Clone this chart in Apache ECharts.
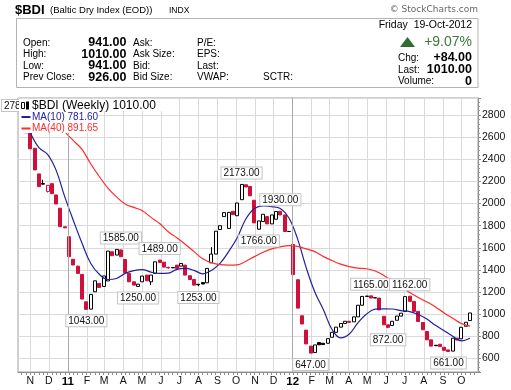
<!DOCTYPE html>
<html>
<head>
<meta charset="utf-8">
<script src="https://cdn.jsdelivr.net/npm/echarts@6/dist/echarts.min.js"></script>
<style>
html,body{margin:0;padding:0;background:#fff;}
#chart{width:511px;height:390px;}
</style>
</head>
<body>
<div id="chart"></div>
<script>
// ---------- DATA ----------
const firstWeek = '2010-10-25';           // Monday of first weekly bar
const axisStartDay = '2010-10-12';
const axisEndDay = '2012-10-28';
const opens = [2740, 2640, 2500, 2268, 2175, 2110, 2180, 2078, 1958, 1790,
 1700, 1496, 1434, 1359, 1111, 1045, 1202, 1277, 1250, 1300,
 1564, 1534, 1580, 1494, 1368, 1292, 1250, 1292, 1353, 1292,
 1368, 1489, 1470, 1422, 1418, 1443, 1434, 1443, 1347, 1313,
 1270, 1285, 1283, 1464, 1543, 1765, 1882, 1775, 1930, 1890,
 2035, 2170, 2155, 2030, 1768, 1837, 1882, 1816, 1858, 1930,
 1897, 1747, 1630, 1311, 985, 855, 710, 652, 742, 736,
 736, 790, 835, 882, 915, 935, 930, 975, 1080, 1163,
 1165, 1148, 1145, 980, 903, 897, 944, 982, 1024, 1162,
 1115, 1024, 924, 842, 767, 718, 727, 700, 676, 665,
 782, 776, 890, 941];
const closes = [2640, 2495, 2304, 2153, 2182, 2165, 2090, 1996, 1791, 1780,
 1519, 1444, 1368, 1136, 1043, 1178, 1301, 1241, 1345, 1570,
 1528, 1585, 1519, 1374, 1292, 1262, 1271, 1344, 1301, 1353,
 1473, 1467, 1425, 1418, 1422, 1413, 1458, 1353, 1313, 1262,
 1265, 1272, 1413, 1543, 1750, 1800, 1918, 1920, 1900, 2005,
 2173, 2150, 2070, 1825, 1843, 1903, 1816, 1897, 1928, 1897,
 1747, 1748, 1357, 1054, 910, 730, 647, 721, 722, 724,
 778, 835, 882, 915, 935, 925, 975, 1080, 1160, 1160,
 1145, 1146, 1038, 903, 880, 935, 982, 1008, 1158, 1115,
 1024, 933, 858, 767, 710, 714, 706, 672, 661, 782,
 765, 880, 926, 1010];
// wick extremes that go beyond the body: [week index, value]
const wickLows = [[4,2170],[5,2100],[15,1043],[26,1250],[29,1262],[33,1410],[40,1253],[54,1766],[66,647],[84,872],[98,661]];
const wickHighs = [[0,2783],[4,2215],[5,2168],[22,1585],[31,1489],[33,1428],[43,1605],[59,1930],[80,1165],[89,1162]];
// labelled highs / lows: [week index, 'high'|'low', text]
const peakLabels = [[0,'high','2783.00'],[14,'low','1043.00'],[22,'high','1585.00'],[26,'low','1250.00'],
 [31,'high','1489.00'],[40,'low','1253.00'],[50,'high','2173.00'],[54,'low','1766.00'],[59,'high','1930.00'],
 [66,'low','647.00'],[80,'high','1165.00'],[84,'low','872.00'],[89,'high','1162.00'],[98,'low','661.00']];
// moving averages read every second week (week index = 1 + 2k)
const ma10 = [2640, 2505, 2445, 2300, 2060, 1845, 1640, 1460, 1360, 1313, 1322, 1368, 1393, 1402, 1380, 1368,
 1370, 1405, 1413, 1395, 1364, 1395, 1458, 1565, 1690, 1860, 1955, 1979, 1973, 1955, 1870, 1680, 1420, 1200,
 1040, 860, 785, 820, 920, 1000, 1045, 1048, 1046, 1032, 1022, 996, 955, 898, 850, 800, 758, 781.6];
const ma40 = [null, null, null, 2760, 2650, 2570, 2490, 2360, 2245, 2140, 2060, 1995, 1965, 1935, 1875, 1820,
 1745, 1690, 1630, 1565, 1500, 1465, 1447, 1443, 1445, 1478, 1520, 1560, 1590, 1608, 1620, 1612, 1590, 1565,
 1520, 1485, 1452, 1430, 1415, 1410, 1390, 1350, 1300, 1245, 1195, 1150, 1110, 1065, 1010, 962, 915, 891.65];
const monthLetters = ['J','F','M','A','M','J','J','A','S','O','N','D'];
const yearLines = ['2011-01-01','2012-01-01'];

// ---------- BUILD ----------
const DAY = 86400000;
const iso = t => new Date(t).toISOString().slice(0,10);
const toT = s => Date.parse(s + 'T00:00:00Z');
const days = [];
for (let t = toT(axisStartDay); t <= toT(axisEndDay); t += DAY) days.push(iso(t));
const mondays = new Set(days.filter(d => new Date(toT(d)).getUTCDay() === 1));
const weeks = opens.map((_, j) => iso(toT(firstWeek) + 7 * j * DAY));
const lows = opens.map((o, j) => Math.min(o, closes[j]));
const highs = opens.map((o, j) => Math.max(o, closes[j]));
wickLows.forEach(([j, v]) => lows[j] = Math.min(lows[j], v));
wickHighs.forEach(([j, v]) => highs[j] = Math.max(highs[j], v));

const RED = '#d0103a', BLACK = '#000000', BLUE = '#22229a', MARED = '#ff2a2a';
const candleData = weeks.map((d, j) => {
  const o = opens[j], c = closes[j], prev = j ? closes[j - 1] : o;
  const col = c < prev ? RED : BLACK;
  const fill = c >= o ? '#ffffff' : col;
  return { value: [d, o, c, lows[j], highs[j]],
    itemStyle: { color: fill, color0: fill, borderColor: col, borderColor0: col } };
});
const maLine = arr => arr.map((v, k) => v == null ? null : [weeks[1 + 2 * k], v]).filter(Boolean);

const FONT = '"Liberation Sans", Arial, sans-serif';
const markData = peakLabels.map(([j, kind, text]) => ({
  coord: [weeks[j], kind === 'high' ? highs[j] : lows[j]],
  value: text,
  label: { position: kind === 'high' ? 'top' : 'bottom', offset: j === 0 ? [-4, 0] : [0, 0] }
}));

function txt(x, y, s, font, fill, align) {
  return { type: 'text', x: x, y: y, z: 100, silent: true,
    style: { text: s, font: font, fill: fill || '#000', align: align || 'left', verticalAlign: 'middle' } };
}
const lab = '10px ' + FONT, val = 'bold 12.5px ' + FONT;
const header = [
  txt(15, 10, '$BDI', 'bold 13px ' + FONT),
  txt(50, 10.5, '(Baltic Dry Index (EOD))', '9.5px ' + FONT),
  txt(169, 10.5, 'INDX', '8.5px ' + FONT),
  txt(478, 10, '\u00A9 StockCharts.com', '9px "DejaVu Sans", sans-serif', '#666', 'right'),
  { type: 'rect', z: 90, silent: true, shape: { x: 16.5, y: 18.5, width: 461.5, height: 69 },
    style: { fill: '#fff', stroke: '#b4b4b4', lineWidth: 1 } },
  txt(23, 43, 'Open:', lab), txt(23, 54.5, 'High:', lab), txt(23, 66, 'Low:', lab), txt(23, 77.5, 'Prev Close:', lab),
  txt(126.5, 43, '941.00', val, '#000', 'right'), txt(126.5, 54.5, '1010.00', val, '#000', 'right'),
  txt(126.5, 66, '941.00', val, '#000', 'right'), txt(126.5, 77.5, '926.00', val, '#000', 'right'),
  txt(133, 43, 'Ask:', lab), txt(133, 54.5, 'Ask Size:', lab), txt(133, 66, 'Bid:', lab), txt(133, 77.5, 'Bid Size:', lab),
  txt(197, 43, 'P/E:', lab), txt(197, 54.5, 'EPS:', lab), txt(197, 66, 'Last:', lab), txt(197, 77.5, 'VWAP:', lab),
  txt(263, 77.5, 'SCTR:', lab),
  txt(472, 25, 'Friday  19-Oct-2012', '10.5px ' + FONT, '#000', 'right'),
  { type: 'polygon', z: 100, silent: true, shape: { points: [[400, 47], [407.5, 37], [415, 47]] }, style: { fill: '#2f6e2f' } },
  txt(472, 42, '+9.07%', '14px ' + FONT, '#3b7b3b', 'right'),
  txt(398, 58, 'Chg:', lab), txt(472, 58, '+84.00', val, '#000', 'right'),
  txt(398, 70, 'Last:', lab), txt(472, 70, '1010.00', val, '#000', 'right'),
  txt(398, 81.5, 'Volume:', lab), txt(472, 81.5, '0', val, '#000', 'right')
];
const legend = [
  { type: 'rect', z: 95, silent: true, shape: { x: 19, y: 99, width: 147, height: 12 }, style: { fill: '#fff' } },
  { type: 'rect', z: 95, silent: true, shape: { x: 19, y: 111, width: 79, height: 22 }, style: { fill: '#fff' } },
  { type: 'rect', z: 100, silent: true, shape: { x: 21.5, y: 102.5, width: 3, height: 6 }, style: { fill: '#fff', stroke: '#000' } },
  { type: 'rect', z: 100, silent: true, shape: { x: 26, y: 101.5, width: 3, height: 8 }, style: { fill: '#000' } },
  txt(32, 105.5, '$BDI (Weekly) 1010.00', '12px ' + FONT, '#000'),
  { type: 'rect', z: 100, silent: true, shape: { x: 21.5, y: 116, width: 9, height: 2 }, style: { fill: BLUE } },
  txt(32, 117.5, 'MA(10) 781.60', '10px ' + FONT, BLUE),
  { type: 'rect', z: 100, silent: true, shape: { x: 21.5, y: 127.5, width: 9, height: 2 }, style: { fill: MARED } },
  txt(32, 128.5, 'MA(40) 891.65', '10px ' + FONT, MARED)
];

const chart = echarts.init(document.getElementById('chart'), null, { renderer: 'canvas' });
chart.setOption({
  animation: false,
  backgroundColor: '#fff',
  grid: { left: 18, right: 33, top: 98, bottom: 18, show: true, borderColor: '#a0a0a0', borderWidth: 1,
    backgroundColor: '#fff', outerBoundsMode: 'none', containLabel: false },
  xAxis: {
    type: 'category', data: days, boundaryGap: false,
    axisLine: { show: true, lineStyle: { color: '#8c8c8c', width: 1 } },
    axisTick: { show: true, interval: (i, v) => mondays.has(v), length: 3, lineStyle: { color: '#8c8c8c' } },
    axisLabel: { show: true, interval: (i, v) => v.endsWith('-01'), margin: 4, color: '#111', fontSize: 10.5, fontFamily: FONT,
      formatter: v => { const m = +v.slice(5, 7); return m === 1 ? '{y|' + v.slice(2, 4) + '}' : monthLetters[m - 1]; },
      rich: { y: { fontWeight: 'bold', fontSize: 11.5, fontFamily: FONT, color: '#000' } } },
    splitLine: { show: true, interval: (i, v) => v.endsWith('-01'), lineStyle: { color: '#dadada', width: 1 } }
  },
  yAxis: {
    type: 'value', position: 'right', min: 476, max: 2955, splitNumber: 12, minInterval: 200, maxInterval: 200, scale: true,
    axisLine: { show: true, lineStyle: { color: '#8c8c8c' } },
    axisTick: { show: true, length: 3, lineStyle: { color: '#8c8c8c' } },
    minorTick: { show: true, splitNumber: 5, length: 2, lineStyle: { color: '#9a9a9a' } },
    axisLabel: { show: true, margin: 4, color: '#111', fontSize: 10.5, fontFamily: FONT, showMinLabel: false, showMaxLabel: false,
      formatter: v => String(v) },
    splitLine: { show: true, lineStyle: { color: '#dadada', width: 1 } }
  },
  series: [
    { type: 'line', z: 1, data: [], silent: true,
      markLine: { silent: true, symbol: ['none', 'none'], label: { show: false },
        lineStyle: { color: '#a9a9a9', type: 'solid', width: 1 }, data: yearLines.map(d => ({ xAxis: d })) } },
    { type: 'candlestick', name: '$BDI', z: 3, data: candleData, barWidth: 3.5,
      dimensions: ['date', 'open', 'close', 'lowest', 'highest'], encode: { x: 0, y: [1, 2, 3, 4] },
      itemStyle: { borderWidth: 1 },
      markPoint: { symbol: 'circle', symbolSize: 0, silent: true, data: markData,
        label: { show: true, formatter: p => p.value, distance: 6, fontSize: 10, fontFamily: FONT, color: '#111',
          backgroundColor: '#fff', borderColor: '#c4c4c4', borderWidth: 1, padding: [1, 2, 0, 2], lineHeight: 10 } } },
    { type: 'line', name: 'MA(10)', z: 4, data: maLine(ma10), symbol: 'none', smooth: 0.4, silent: true,
      lineStyle: { color: BLUE, width: 1.2 } },
    { type: 'line', name: 'MA(40)', z: 4, data: maLine(ma40), symbol: 'none', smooth: 0.4, silent: true,
      lineStyle: { color: MARED, width: 1.2 } }
  ],
  graphic: { elements: header.concat(legend) }
});
</script>
</body>
</html>
